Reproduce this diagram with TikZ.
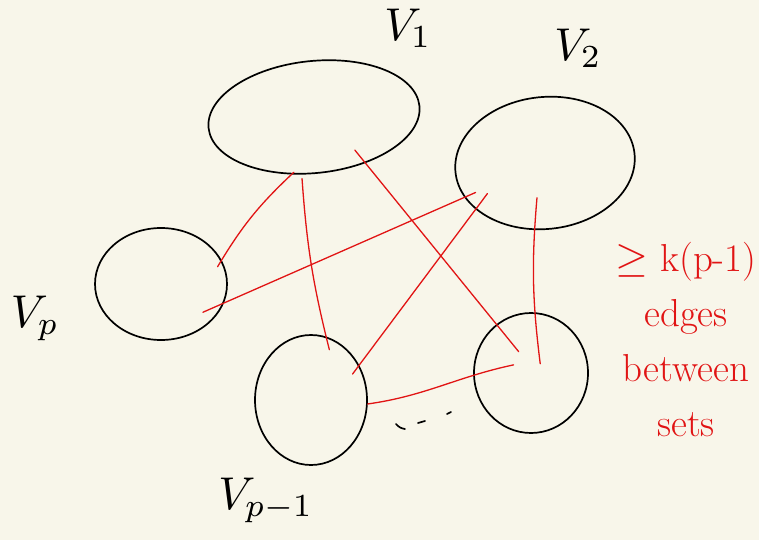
\documentclass[tikz,border=0pt]{standalone}
\usetikzlibrary{shapes.geometric,calc}
\definecolor{paper}{RGB}{248,246,234}
\definecolor{inkred}{RGB}{225,20,20}
\begin{document}
\begin{tikzpicture}[x=1pt,y=-1pt,
  setblob/.style={draw=black,line width=1.7pt,ellipse,inner sep=0pt},
  edgeline/.style={draw=inkred,line width=1.3pt,line cap=round},
  setlabel/.style={inner sep=0pt},
  notelabel/.style={inner sep=0pt,text=inkred,align=center,font=\fontsize{39}{55}\selectfont}]
\fill[paper] (0,0) rectangle (759,540);
\useasboundingbox (0,0) rectangle (759,540);

% sets
\node[setblob,minimum width=212pt,minimum height=112pt,rotate=6] (v1) at (314,117) {};
\node[setblob,minimum width=180pt,minimum height=132pt,rotate=6] (v2) at (545,163) {};
\node[setblob,minimum width=132pt,minimum height=112pt] (vp) at (161,284) {};
\node[setblob,minimum width=112pt,minimum height=130pt] (vq) at (311,400) {};
\node[setblob,minimum width=114pt,minimum height=120pt] (w) at (531,373) {};

% labels
\node[setlabel] (l1) at (408,28) {\scalebox{4.6}{$V_1$}};
\node[setlabel] (l2) at (578,48) {\scalebox{4.6}{$V_2$}};
\node[setlabel] (lp) at (35,318) {\scalebox{4.6}{$V_p$}};
\node[setlabel] (lq) at (266,500) {\scalebox{4.6}{$V_{p-1}$}};

% edges between sets
\draw[edgeline] ($(vp.center)!0.9!(vp.17)$) to[bend left=8] ($(v1.center)!0.96!(v1.244)$);
\draw[edgeline] ($(v1.center)!1.07!(v1.253)$) to[bend right=5] ($(vq.center)!0.83!(vq.70)$);
\draw[edgeline] ($(v1.center)!0.74!(v1.315)$) -- ($(w.center)!0.41!(w.120)$);
\draw[edgeline] ($(vp.center)!0.8!(vp.326)$) -- ($(v2.center)!0.86!(v2.197)$);
\draw[edgeline] ($(v2.center)!0.52!(v2.251)$) to[bend right=6] ($(w.center)!0.22!(w.45)$);
\draw[edgeline] ($(v2.center)!0.76!(v2.202)$) -- ($(vq.center)!0.83!(vq.32)$);
\draw[edgeline] (vq.-4) to[out=8,in=192] ($(w.center)!0.33!(w.155)$);

% dots
\draw[line width=1.7pt,line cap=round] (396,424) to[bend right=20] (405,429);
\draw[line width=1.7pt,line cap=round] (418,423) -- (425,421);
\draw[line width=1.7pt,line cap=round] (447,414) -- (451,412);

% note
\node[notelabel] (note) at (686,340) {\scalebox{1.7}{$\geq$} k(p-1)\\edges\\between\\sets};
\end{tikzpicture}
\end{document}
